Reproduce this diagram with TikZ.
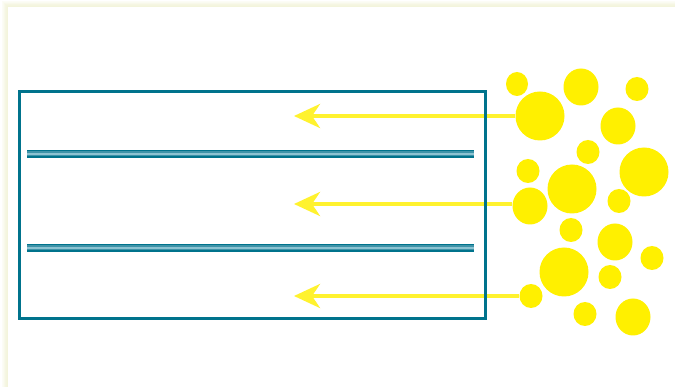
\documentclass[tikz,border=0pt]{standalone}
\usetikzlibrary{arrows.meta,shapes.geometric}
\definecolor{teal1}{HTML}{00738C}
\definecolor{tealmid}{HTML}{3E93A8}
\definecolor{teallight}{HTML}{8CC3D2}
\definecolor{ybub}{HTML}{FFF000}
\definecolor{yarr}{HTML}{FFF22E}
\definecolor{glow}{HTML}{F3F4DC}
\tikzset{
  bub/.style={ellipse, fill=ybub, draw=none, inner sep=0pt},
  yarrow/.style={draw=yarr, line width=4pt, -{Stealth[length=26pt,width=24pt,inset=8pt]}},
  bar/.style={line width=8pt, draw=teal1},
}
\begin{document}
\begin{tikzpicture}[x=1pt,y=-1pt]
\useasboundingbox (0,0) rectangle (675,387);
\fill[white] (0,0) rectangle (675,387);
% soft frame glow
\foreach \d/\c in {6/glow!25,5/glow!40,4/glow!60,3/glow!80,2/glow!90,1/glow} {
  \draw[\c, line width=1pt] (8-\d,390) -- (8-\d,8-\d) -- (680,8-\d);
}
\fill[white] (8,8) rectangle (675,387);
% bars
\foreach \y in {154,248} {
  \draw[bar] (27,\y) -- (474,\y);
  \draw[line width=5pt, tealmid] (27,\y) -- (474,\y);
  \draw[line width=2.5pt, teallight] (27,\y) -- (474,\y);
}
% bubbles
\node[bub, minimum width=22pt, minimum height=24pt] (c1) at (517,84) {};
\node[bub, minimum width=35pt, minimum height=37pt] (c3) at (581,87) {};
\node[bub, minimum width=23pt, minimum height=24pt] (c4) at (637,89) {};
\node[bub, minimum width=49pt, minimum height=49pt] (c2) at (540,116) {};
\node[bub, minimum width=35pt, minimum height=37pt] (c5) at (618,126) {};
\node[bub, minimum width=23pt, minimum height=24pt] (c6) at (588,152) {};
\node[bub, minimum width=23pt, minimum height=24pt] (c7) at (528,171) {};
\node[bub, minimum width=49pt, minimum height=49pt] (c8) at (644,172) {};
\node[bub, minimum width=49pt, minimum height=49pt] (c9) at (572,189) {};
\node[bub, minimum width=35pt, minimum height=37pt] (c10) at (530,206) {};
\node[bub, minimum width=23pt, minimum height=24pt] (c11) at (619,201) {};
\node[bub, minimum width=23pt, minimum height=24pt] (c12) at (571,230) {};
\node[bub, minimum width=35pt, minimum height=37pt] (c13) at (615,242) {};
\node[bub, minimum width=23pt, minimum height=24pt] (c14) at (652,258) {};
\node[bub, minimum width=49pt, minimum height=49pt] (c15) at (564,272) {};
\node[bub, minimum width=23pt, minimum height=24pt] (c16) at (610,277) {};
\node[bub, minimum width=23pt, minimum height=24pt] (c17) at (531,296) {};
\node[bub, minimum width=23pt, minimum height=24pt] (c18) at (585,314) {};
\node[bub, minimum width=35pt, minimum height=37pt] (c19) at (633,317) {};
% arrows
\coordinate (t1) at (294,116);
\coordinate (t2) at (294,204);
\coordinate (t3) at (294,296);
\draw[yarrow] (c2.west) -- (t1);
\draw[yarrow] (c10.west |- t2) -- (t2);
\draw[yarrow] (c17.west) -- (t3);
% box on top
\node[draw=teal1, line width=3pt, minimum width=466pt, minimum height=227pt, inner sep=0pt] (box) at (252.5,205) {};
\end{tikzpicture}
\end{document}
